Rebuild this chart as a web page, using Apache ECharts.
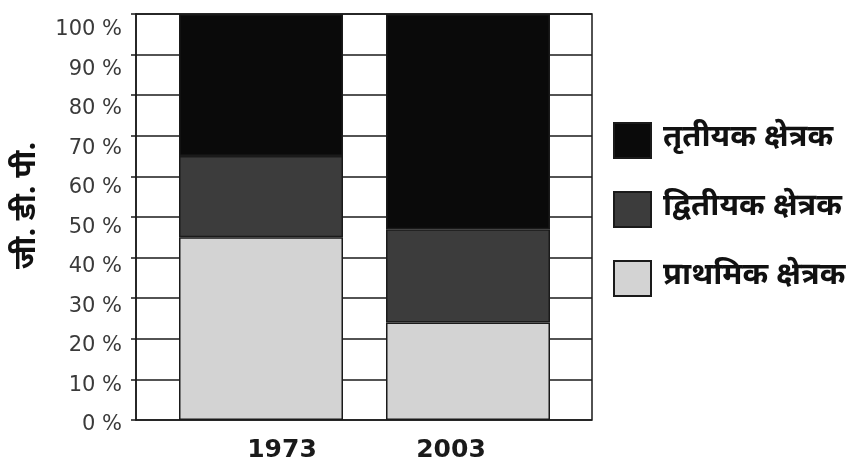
<!DOCTYPE html>
<html>
<head>
<meta charset="utf-8">
<script src="https://cdn.jsdelivr.net/npm/echarts@6/dist/echarts.min.js"></script>
<style>
html,body{margin:0;padding:0;background:#fff;}
#chart{width:857px;height:464px;}
</style>
</head>
<body>
<div id="chart"></div>
<script>
const years = ['1973', '2003'];
const primary = [45, 24];     // प्राथमिक क्षेत्रक
const secondary = [20, 23];   // द्वितीयक क्षेत्रक
const tertiary = [35, 53];    // तृतीयक क्षेत्रक
const seriesNames = ['प्राथमिक क्षेत्रक', 'द्वितीयक क्षेत्रक', 'तृतीयक क्षेत्रक'];
const yTicks = [0, 10, 20, 30, 40, 50, 60, 70, 80, 90, 100];
const yTitle = 'जी. डी. पी.';

const DEV = "'Noto Sans Devanagari','Lohit Devanagari','Noto Sans','DejaVu Sans',sans-serif";

const chart = echarts.init(document.getElementById('chart'), null, {renderer: 'canvas'});
const barBase = {
  type: 'bar', stack: 'gdp', barWidth: 164, xAxisIndex: 1, yAxisIndex: 1,
  emphasis: {disabled: true}
};
chart.setOption({
  backgroundColor: '#fff',
  animation: false,
  grid: [
    // frame with grid lines
    {left: 136, right: 265, top: 14, bottom: 44, show: true, borderColor: '#1a1a1a', borderWidth: 1.5, backgroundColor: '#fff'},
    // bars
    {left: 157.5, width: 414, top: 14, bottom: 44},
    // y tick labels
    {left: 130, width: 1, top: 30, bottom: 39}
  ],
  xAxis: [
    {type: 'value', gridIndex: 0, min: 0, max: 1, show: false},
    {
      type: 'category', gridIndex: 1, data: years,
      axisLine: {show: false}, axisTick: {show: false}, splitLine: {show: false},
      axisLabel: {
        margin: 18,
        formatter: (v, i) => (i === 0 ? '{a|' : '{b|') + v + '}',
        rich: {
          a: {fontFamily: 'DejaVu Sans', fontWeight: 'bold', fontSize: 25, color: '#1a1a1a', padding: [0, 0, 0, 42]},
          b: {fontFamily: 'DejaVu Sans', fontWeight: 'bold', fontSize: 25, color: '#1a1a1a', padding: [0, 34, 0, 0]}
        }
      }
    },
    {type: 'value', gridIndex: 2, show: false, min: 0, max: 1}
  ],
  yAxis: [
    {
      type: 'value', gridIndex: 0, min: 0, max: 100, interval: 10,
      axisLine: {show: true, lineStyle: {color: '#1a1a1a', width: 1.5}},
      axisTick: {show: true, length: 5, lineStyle: {color: '#1a1a1a', width: 1.5}},
      splitLine: {show: true, lineStyle: {color: '#1a1a1a', width: 1.5}},
      axisLabel: {show: false}
    },
    {type: 'value', gridIndex: 1, min: 0, max: 100, show: false},
    {
      type: 'value', gridIndex: 2, min: 0, max: 100, interval: 10,
      axisLine: {show: false}, axisTick: {show: false}, splitLine: {show: false},
      axisLabel: {
        margin: 8, fontFamily: 'DejaVu Sans', fontSize: 21, color: '#3a3a3a',
        customValues: yTicks,
        formatter: v => v + ' %'
      },
      name: yTitle, nameLocation: 'middle', nameRotate: 90, nameGap: 86,
      nameTextStyle: {fontFamily: DEV, fontWeight: 'bold', fontSize: 30, color: '#111', padding: [0, 0, 0, 44]}
    }
  ],
  legend: {
    orient: 'vertical', left: 608, top: 117,
    itemWidth: 37, itemHeight: 35, itemGap: 32, icon: 'rect',
    data: [seriesNames[2], seriesNames[1], seriesNames[0]],
    textStyle: {fontFamily: DEV, fontWeight: 'bold', fontSize: 31, color: '#111', padding: [0, 0, 0, 7]},
    selectedMode: false
  },
  series: [
    Object.assign({}, barBase, {name: seriesNames[0], data: primary,
      itemStyle: {color: '#d3d3d3', borderColor: '#1a1a1a', borderWidth: 1.5}}),
    Object.assign({}, barBase, {name: seriesNames[1], data: secondary,
      itemStyle: {color: '#3c3c3c', borderColor: '#1a1a1a', borderWidth: 1.5}}),
    Object.assign({}, barBase, {name: seriesNames[2], data: tertiary,
      itemStyle: {color: '#0a0a0a', borderColor: '#1a1a1a', borderWidth: 1.5}})
  ]
});
</script>
</body>
</html>
